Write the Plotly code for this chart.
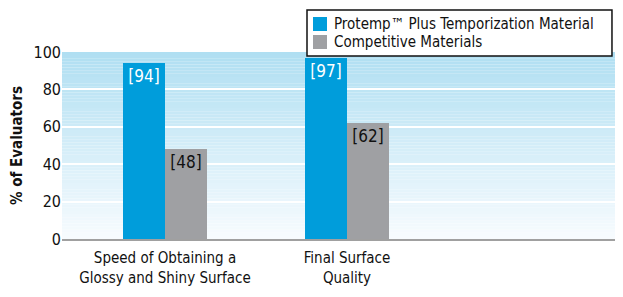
import plotly.graph_objects as go

categories = ["Speed of Obtaining a<br>Glossy and Shiny Surface", "Final Surface<br>Quality"]
protemp = [94, 97]
competitive = [48, 62]
series_names = ["Protemp\u2122 Plus Temporization Material", "Competitive Materials"]
y_ticks = [0, 20, 40, 60, 80, 100]

FONT = "DejaVu Sans Condensed, Liberation Sans Narrow, sans-serif"
BLUE = "#009ddb"
GRAY = "#9fa0a3"
colors = [BLUE, GRAY]

fig = go.Figure()
fig.add_trace(go.Bar(
    x=categories, y=protemp, name=series_names[0],
    marker=dict(color=BLUE, line=dict(width=0)),
    width=0.231, offset=-0.231,
    text=[f"[{v}]" for v in protemp], textposition="inside", insidetextanchor="end",
    textfont=dict(color="white", size=17, family=FONT),
    textangle=0,
))
fig.add_trace(go.Bar(
    x=categories, y=competitive, name=series_names[1],
    marker=dict(color=GRAY, line=dict(width=0)),
    width=0.231, offset=0,
    text=[f"[{v}]" for v in competitive], textposition="inside", insidetextanchor="end",
    textfont=dict(color="#111111", size=17, family=FONT),
    textangle=0,
))

# vertical gradient background
top = (176, 223, 242)
bot = (247, 251, 254)
n = 60
shapes = []
for i in range(n):
    t = i / (n - 1)
    c = tuple(round(bot[k] + (top[k] - bot[k]) * t) for k in range(3))
    shapes.append(dict(type="rect", xref="paper", yref="y", x0=0, x1=1,
                       y0=100 * i / n, y1=100 * (i + 1) / n,
                       fillcolor=f"rgb{c}", line=dict(width=0), layer="below"))

# boxed legend drawn in paper coordinates
shapes.append(dict(type="rect", xref="paper", yref="paper", x0=0.4375, x1=0.9821,
                   y0=0.9786, y1=1.2246, fillcolor="white",
                   line=dict(color="#111111", width=1.5), layer="above"))
annotations = []
sq_y = [(1.1123, 1.1872), (1.0160, 1.0909)]
txt_y = [1.1497, 1.0535]
for name, col, (ya, yb), ty in zip(series_names, colors, sq_y, txt_y):
    shapes.append(dict(type="rect", xref="paper", yref="paper", x0=0.4482, x1=0.4732,
                       y0=ya, y1=yb, fillcolor=col, line=dict(width=0), layer="above"))
    annotations.append(dict(text=name, xref="paper", yref="paper", x=0.4821, y=ty,
                            xanchor="left", yanchor="middle", showarrow=False,
                            font=dict(size=15, family=FONT, color="#111111")))

fig.update_layout(
    width=615, height=289,
    margin=dict(l=54, r=1, t=44, b=58, autoexpand=False),
    paper_bgcolor="white", plot_bgcolor="rgba(0,0,0,0)",
    shapes=shapes, annotations=annotations,
    font=dict(family=FONT, size=15, color="#111111"),
    showlegend=False,
    bargap=0, barmode="overlay",
)
fig.update_xaxes(range=[-0.566, 2.511], showgrid=False, showline=True,
                 linecolor="#a0a0a0", linewidth=2, ticks="", tickfont=dict(size=15),
                 zeroline=False, ticklabelstandoff=4)
fig.update_yaxes(range=[0, 100], tickvals=y_ticks, showgrid=True, gridcolor="white",
                 gridwidth=1.5, zeroline=False, showline=False, ticks="",
                 tickfont=dict(size=16), ticklen=0,
                 title=dict(text="<b>% of Evaluators</b>", font=dict(size=15), standoff=8))

fig.write_html("out.html")
